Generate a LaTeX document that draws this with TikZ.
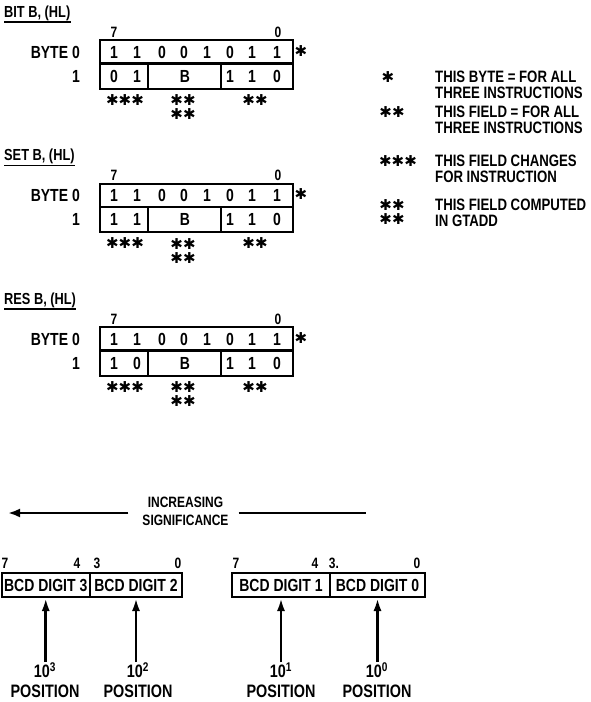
\documentclass[tikz,border=0pt]{standalone}
\usepackage{fontspec}
\setmainfont{Liberation Sans}[FakeStretch=0.8]
\newfontfamily\starfont{DejaVu Sans}
\usetikzlibrary{arrows.meta,calc}
\tikzset{
  txt/.style={inner sep=0pt, font=\bfseries\fontsize{17.5}{17.5}\selectfont},
  ttl/.style={inner sep=0pt, font=\bfseries\fontsize{16}{16}\selectfont},
  idx/.style={inner sep=0pt, font=\bfseries\fontsize{15}{15}\selectfont},
  leg/.style={inner sep=0pt, align=left, font=\bfseries\fontsize{16.5}{16}\selectfont},
  strs/.style={inner sep=0pt, align=center, font=\starfont\bfseries\fontsize{15}{14}\selectfont},
  fld/.style={draw, line width=2pt, inner sep=0pt},
  bcd/.style={draw, line width=2pt, inner sep=0pt, minimum height=24pt, font=\bfseries\fontsize{17.5}{17.5}\selectfont},
  poslbl/.style={inner sep=0pt, align=center, font=\bfseries\fontsize{18}{20}\selectfont},
  uparr/.style={line width=2.6pt, -{Latex[length=13pt,width=8pt]}},
}
\begin{document}
\begin{tikzpicture}[x=1pt,y=-1pt]
\useasboundingbox (0,0) rectangle (590,702);
% ---- three instruction blocks ----
\foreach \n/\t/\a/\b/\dy in {1/{BIT B, (HL)}/0/1/0, 2/{SET B, (HL)}/1/1/143.5, 3/{RES B, (HL)}/1/0/287}{
  \node[ttl, anchor=base west] (t\n) at (4, 17+\dy) {\t};
  \draw[line width=1.4pt] ($(t\n.base west)+(0,5)$) -- ($(t\n.base east)+(0,5)$);
  \node[idx] (hi\n) at (114, 32+\dy) {7};
  \node[idx] (lo\n) at (278, 32+\dy) {0};
  \node[fld, minimum width=193pt, minimum height=23pt] (r\n) at (196.5, 51.5+\dy) {};
  \node[fld, minimum width=48pt, minimum height=25pt] (fa\n) at (124, 76+\dy) {};
  \node[fld, minimum width=73pt, minimum height=25pt] (fb\n) at (184.5, 76+\dy) {};
  \node[fld, minimum width=72pt, minimum height=25pt] (fc\n) at (257, 76+\dy) {};
  \foreach \x/\v [count=\i] in {114/1,137/1,162/0,184/0,207/1,230/0,252/1,277/1}
    \node[txt] (d\n\i) at (\x, 52+\dy) {\v};
  \node[txt] (e\n1) at (114, 76+\dy) {\a};
  \node[txt] (e\n2) at (137, 76+\dy) {\b};
  \node[txt] (e\n3) at (185, 76+\dy) {B};
  \node[txt] (e\n4) at (230, 76+\dy) {1};
  \node[txt] (e\n5) at (252, 76+\dy) {1};
  \node[txt] (e\n6) at (277, 76+\dy) {0};
  \node[txt, anchor=east] (y\n) at (80, 52+\dy) {BYTE 0};
  \node[txt, anchor=east] (z\n) at (80, 76+\dy) {1};
  \node[strs] (s\n0) at (301, 51+\dy) {✱};
  \node[strs] (s\n1) at (125, 100+\dy) {✱✱✱};
  \node[strs, anchor=north] (s\n2) at (183, 94.5+\dy) {✱✱\\✱✱};
  \node[strs] (s\n4) at (255, 100+\dy) {✱✱};
}
% ---- legend ----
\node[strs] (ls1) at (388, 77) {✱};
\node[leg, anchor=north west] (lt1) at (435, 71) {THIS BYTE = FOR ALL\\THREE INSTRUCTIONS};
\node[strs] (ls2) at (392, 112) {✱✱};
\node[leg, anchor=north west] (lt2) at (435, 106) {THIS FIELD = FOR ALL\\THREE INSTRUCTIONS};
\node[strs] (ls3) at (398, 161) {✱✱✱};
\node[leg, anchor=north west] (lt3) at (435, 155) {THIS FIELD CHANGES\\FOR INSTRUCTION};
\node[strs, anchor=north] (ls4) at (392, 199.5) {✱✱\\✱✱};
\node[leg, anchor=north west] (lt4) at (435, 199) {THIS FIELD COMPUTED\\IN GTADD};
% ---- increasing significance ----
\node[inner sep=0pt, align=center, font=\bfseries\fontsize{15}{18}\selectfont] (inc) at (185.5, 511) {INCREASING\\SIGNIFICANCE};
\coordinate (al) at (8, 513);
\coordinate (ar) at (366, 513);
\draw[line width=2.4pt, -{Latex[length=12pt,width=9pt]}] ($(inc.west)+(-14,2)$) -- (al);
\draw[line width=2.4pt] ($(inc.east)+(10,2)$) -- (ar);
% ---- BCD digits ----
\node[bcd, minimum width=88.5pt] (b3) at (45.75, 585) {BCD DIGIT 3};
\node[bcd, minimum width=92pt] (b2) at (136, 585) {BCD DIGIT 2};
\node[bcd, minimum width=98pt] (b1) at (281, 585) {BCD DIGIT 1};
\node[bcd, minimum width=95pt] (b0) at (377.5, 585) {BCD DIGIT 0};
\node[idx] (n7a) at (5, 563) {7};
\node[idx] (n4a) at (77, 563) {4};
\node[idx] (n3a) at (97, 563) {3};
\node[idx] (n0a) at (178, 563) {0};
\node[idx] (n7b) at (236, 563) {7};
\node[idx] (n4b) at (315, 563) {4};
\node[idx] (n3b) at (334, 563) {3.};
\node[idx] (n0b) at (417, 563) {0};
\node[poslbl] (p3) at (45, 680) {10\textsuperscript{3}\\POSITION};
\node[poslbl] (p2) at (138, 680) {10\textsuperscript{2}\\POSITION};
\node[poslbl] (p1) at (281, 680) {10\textsuperscript{1}\\POSITION};
\node[poslbl] (p0) at (377, 680) {10\textsuperscript{0}\\POSITION};
\draw[uparr] (p3.north -| b3.south) -- (b3.south);
\draw[uparr] (p2.north -| b2.south) -- (b2.south);
\draw[uparr] (p1.north -| b1.south) -- (b1.south);
\draw[uparr] (p0.north -| b0.south) -- (b0.south);
\end{tikzpicture}
\end{document}
